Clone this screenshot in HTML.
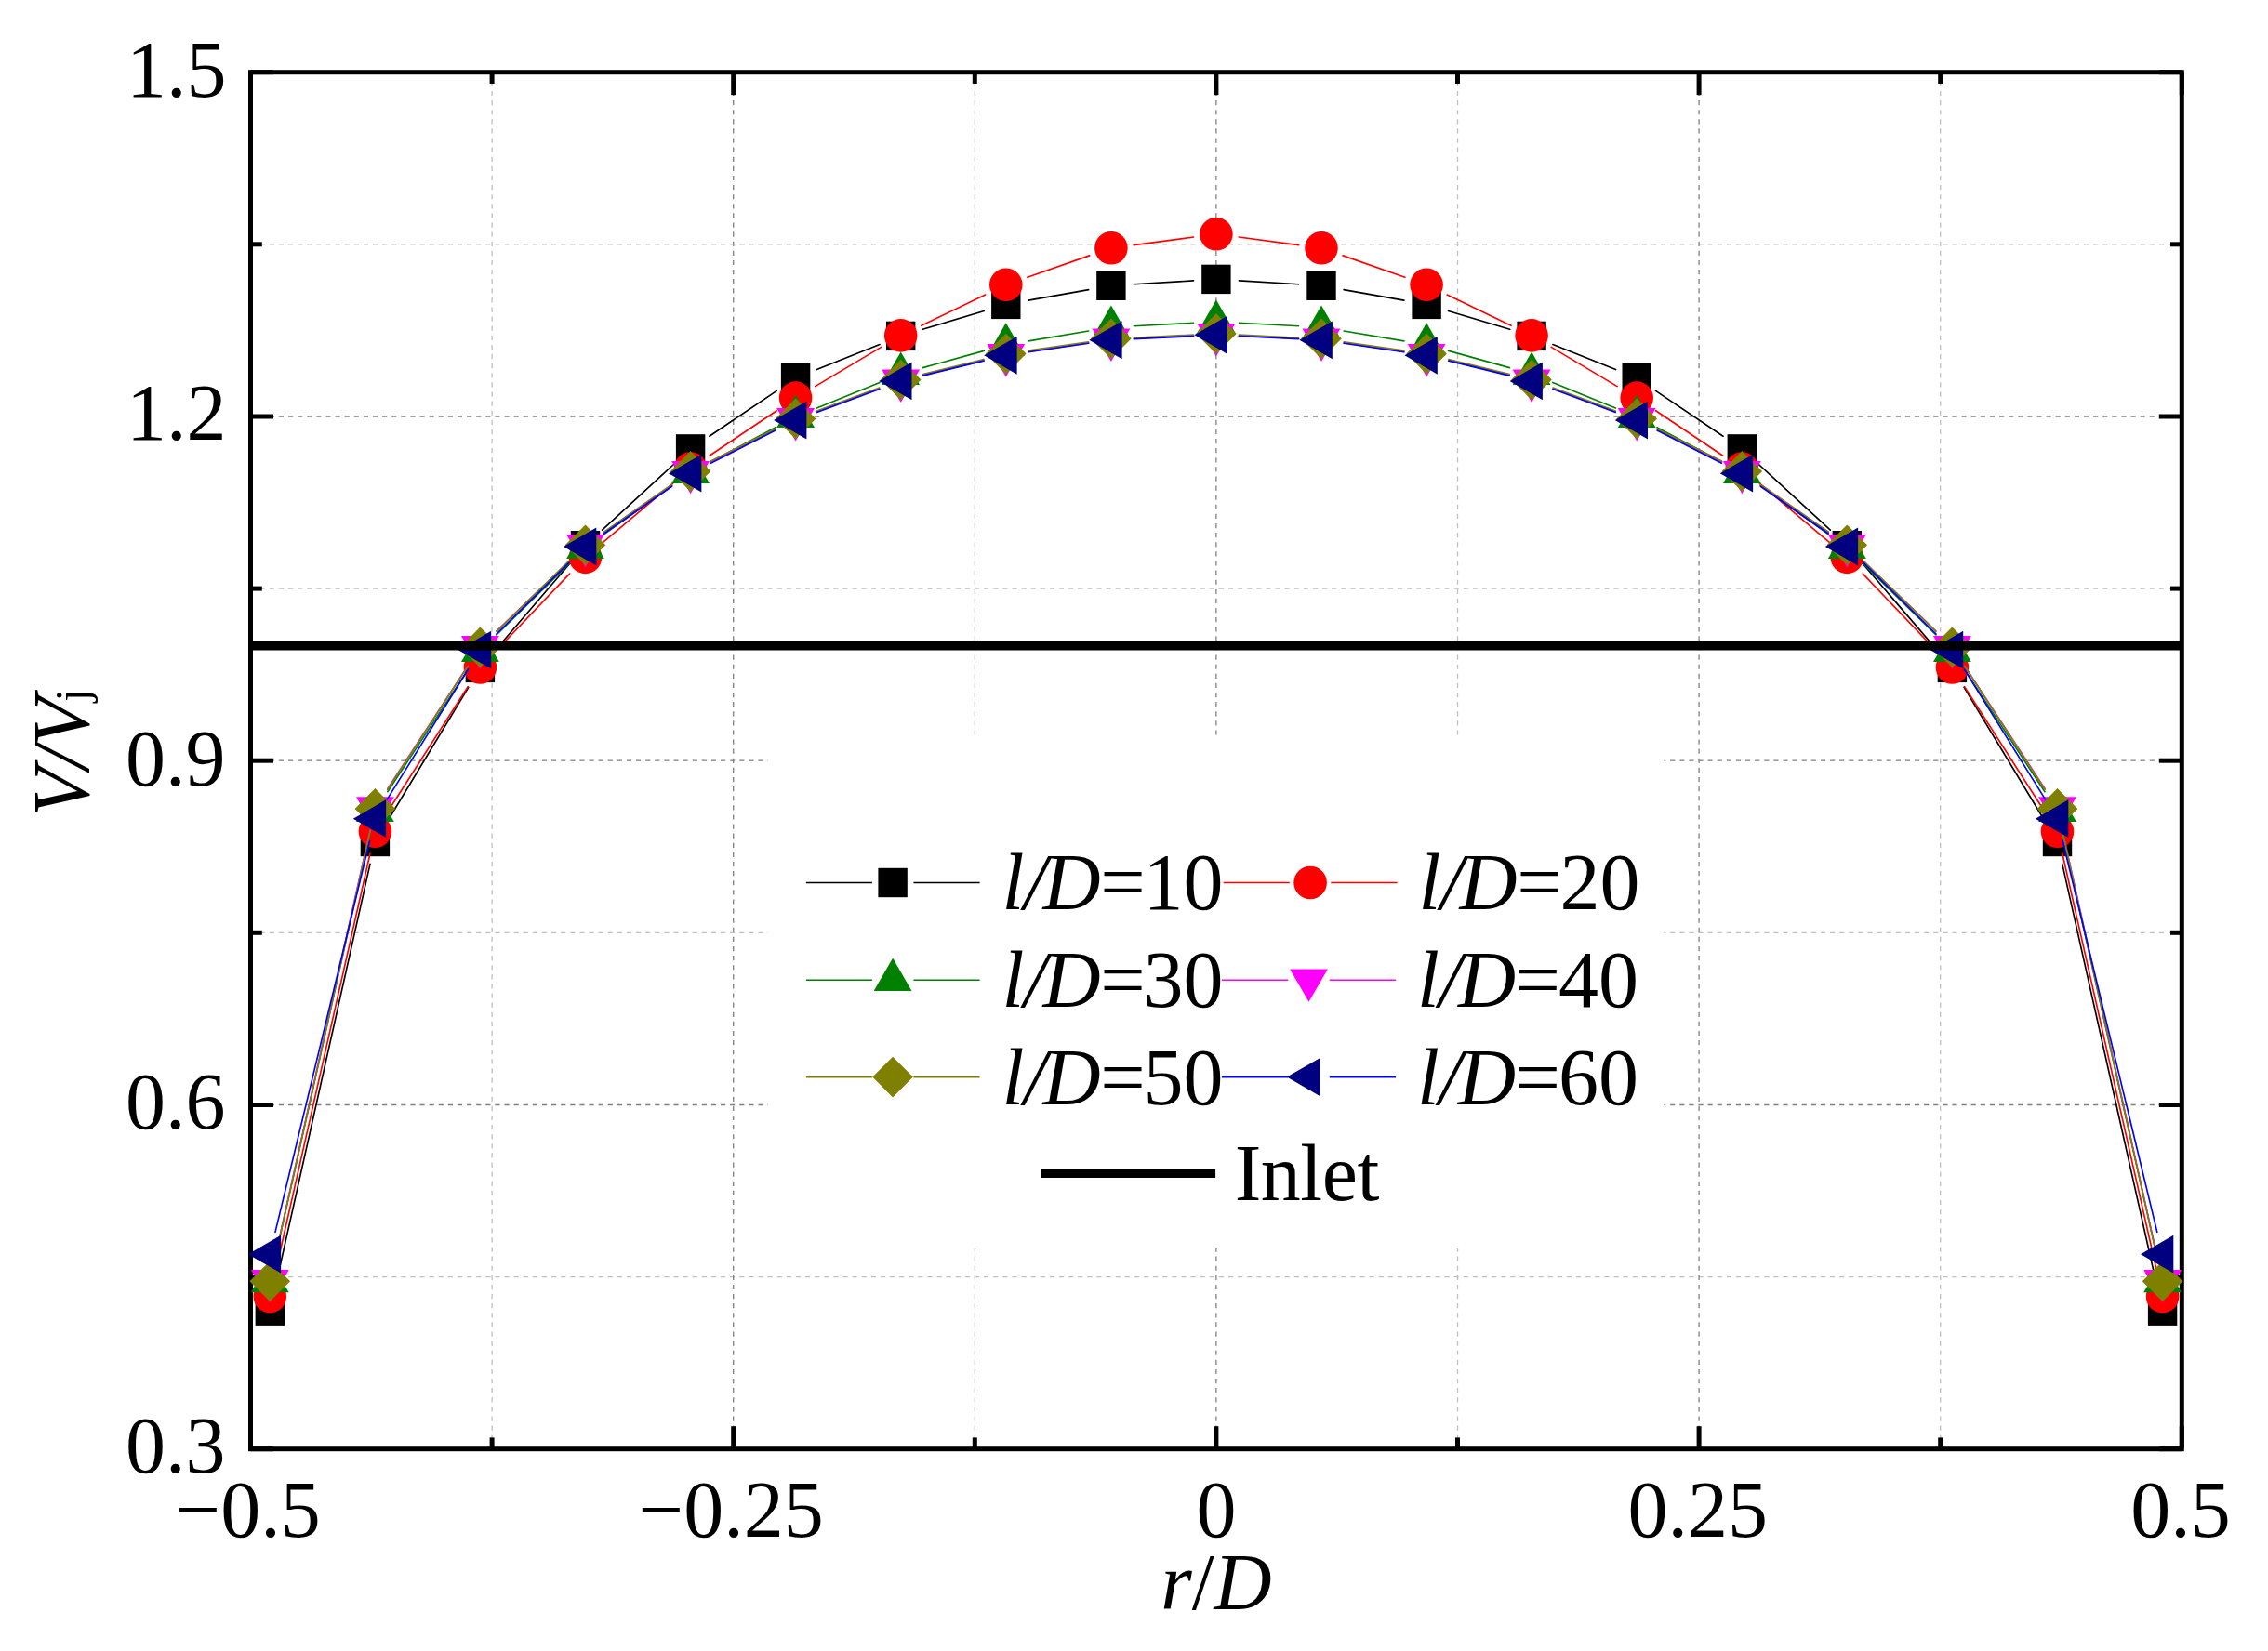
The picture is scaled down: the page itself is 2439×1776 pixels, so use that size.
<!DOCTYPE html>
<html lang="en"><head><meta charset="utf-8"><title>V/Vj versus r/D</title>
<style>html,body{margin:0;padding:0;background:#fff;overflow:hidden}svg{display:block}text{font-family:"Liberation Serif", "Times New Roman", serif;font-size:86px;fill:#000;font-kerning:none}.i{font-style:italic}</style></head><body>
<svg width="2439" height="1776" viewBox="0 0 2439 1776">
<rect x="0" y="0" width="2439" height="1776" fill="#fff"/>
<g fill="none" stroke-width="1.3" stroke-dasharray="5.2 4.91">
<line x1="529.1" y1="77.7" x2="529.1" y2="1558.7" stroke="#c0c0c0"/>
<line x1="1048.3" y1="77.7" x2="1048.3" y2="1558.7" stroke="#c0c0c0"/>
<line x1="1567.5" y1="77.7" x2="1567.5" y2="1558.7" stroke="#c0c0c0"/>
<line x1="2086.7" y1="77.7" x2="2086.7" y2="1558.7" stroke="#c0c0c0"/>
<line x1="269.5" y1="1373.6" x2="2346.3" y2="1373.6" stroke="#c0c0c0"/>
<line x1="269.5" y1="1003.3" x2="2346.3" y2="1003.3" stroke="#c0c0c0"/>
<line x1="269.5" y1="633.1" x2="2346.3" y2="633.1" stroke="#c0c0c0"/>
<line x1="269.5" y1="262.8" x2="2346.3" y2="262.8" stroke="#c0c0c0"/>
<line x1="788.7" y1="77.7" x2="788.7" y2="1558.7" stroke="#808080"/>
<line x1="1307.9" y1="77.7" x2="1307.9" y2="1558.7" stroke="#808080"/>
<line x1="1827.1" y1="77.7" x2="1827.1" y2="1558.7" stroke="#808080"/>
<line x1="269.5" y1="1188.5" x2="2346.3" y2="1188.5" stroke="#808080"/>
<line x1="269.5" y1="818.2" x2="2346.3" y2="818.2" stroke="#808080"/>
<line x1="269.5" y1="448" x2="2346.3" y2="448" stroke="#808080"/>
</g>
<g stroke="#000" stroke-width="5.0" fill="none">
<rect x="269.5" y="77.7" width="2076.8" height="1481"/>
<line x1="269.5" y1="77.7" x2="269.5" y2="102.2"/>
<line x1="269.5" y1="1558.7" x2="269.5" y2="1534.2"/>
<line x1="788.7" y1="77.7" x2="788.7" y2="102.2"/>
<line x1="788.7" y1="1558.7" x2="788.7" y2="1534.2"/>
<line x1="1307.9" y1="77.7" x2="1307.9" y2="102.2"/>
<line x1="1307.9" y1="1558.7" x2="1307.9" y2="1534.2"/>
<line x1="1827.1" y1="77.7" x2="1827.1" y2="102.2"/>
<line x1="1827.1" y1="1558.7" x2="1827.1" y2="1534.2"/>
<line x1="2346.3" y1="77.7" x2="2346.3" y2="102.2"/>
<line x1="2346.3" y1="1558.7" x2="2346.3" y2="1534.2"/>
<line x1="529.1" y1="77.7" x2="529.1" y2="90"/>
<line x1="529.1" y1="1558.7" x2="529.1" y2="1546.4"/>
<line x1="1048.3" y1="77.7" x2="1048.3" y2="90"/>
<line x1="1048.3" y1="1558.7" x2="1048.3" y2="1546.4"/>
<line x1="1567.5" y1="77.7" x2="1567.5" y2="90"/>
<line x1="1567.5" y1="1558.7" x2="1567.5" y2="1546.4"/>
<line x1="2086.7" y1="77.7" x2="2086.7" y2="90"/>
<line x1="2086.7" y1="1558.7" x2="2086.7" y2="1546.4"/>
<line x1="269.5" y1="1558.7" x2="294" y2="1558.7"/>
<line x1="2346.3" y1="1558.7" x2="2321.8" y2="1558.7"/>
<line x1="269.5" y1="1188.5" x2="294" y2="1188.5"/>
<line x1="2346.3" y1="1188.5" x2="2321.8" y2="1188.5"/>
<line x1="269.5" y1="818.2" x2="294" y2="818.2"/>
<line x1="2346.3" y1="818.2" x2="2321.8" y2="818.2"/>
<line x1="269.5" y1="448" x2="294" y2="448"/>
<line x1="2346.3" y1="448" x2="2321.8" y2="448"/>
<line x1="269.5" y1="77.7" x2="294" y2="77.7"/>
<line x1="2346.3" y1="77.7" x2="2321.8" y2="77.7"/>
<line x1="269.5" y1="1373.6" x2="281.8" y2="1373.6"/>
<line x1="2346.3" y1="1373.6" x2="2334" y2="1373.6"/>
<line x1="269.5" y1="1003.3" x2="281.8" y2="1003.3"/>
<line x1="2346.3" y1="1003.3" x2="2334" y2="1003.3"/>
<line x1="269.5" y1="633.1" x2="281.8" y2="633.1"/>
<line x1="2346.3" y1="633.1" x2="2334" y2="633.1"/>
<line x1="269.5" y1="262.8" x2="281.8" y2="262.8"/>
<line x1="2346.3" y1="262.8" x2="2334" y2="262.8"/>
</g>
<g>
<path d="M295.7 1386.3L398 929.4M416 884.5L503.8 739.4M532.4 699.8L613.6 605.3M647.6 570.1L724.5 499.5M762.9 469.2L835.3 420.4M878.4 397.6L946 370.5M992.2 354.3L1058.3 334.5M1105.9 323.1L1170.7 311.6M1219.3 305.8L1283.5 301.9M1332.4 301.9L1396.5 305.8M1445.1 311.6L1509.9 323.1M1557.5 334.5L1623.7 354.3M1669.9 370.5L1737.5 397.6M1780.5 420.4L1853 469.2M1891.3 499.5L1968.3 570.1M2002.3 605.3L2083.5 699.8M2112.1 739.4L2199.8 884.5M2217.8 929.4L2320.2 1386.3" stroke="#000000" stroke-width="1.65" stroke-linecap="round" fill="none"/>
<rect x="274.6" y="1394.5" width="31.4" height="31.4" fill="#000000"/>
<rect x="387.7" y="889.8" width="31.4" height="31.4" fill="#000000"/>
<rect x="500.7" y="702.7" width="31.4" height="31.4" fill="#000000"/>
<rect x="613.8" y="571" width="31.4" height="31.4" fill="#000000"/>
<rect x="726.9" y="467.2" width="31.4" height="31.4" fill="#000000"/>
<rect x="839.9" y="391" width="31.4" height="31.4" fill="#000000"/>
<rect x="953" y="345.7" width="31.4" height="31.4" fill="#000000"/>
<rect x="1066.1" y="311.7" width="31.4" height="31.4" fill="#000000"/>
<rect x="1179.2" y="291.6" width="31.4" height="31.4" fill="#000000"/>
<rect x="1292.2" y="284.7" width="31.4" height="31.4" fill="#000000"/>
<rect x="1405.3" y="291.6" width="31.4" height="31.4" fill="#000000"/>
<rect x="1518.4" y="311.7" width="31.4" height="31.4" fill="#000000"/>
<rect x="1631.4" y="345.7" width="31.4" height="31.4" fill="#000000"/>
<rect x="1744.5" y="391" width="31.4" height="31.4" fill="#000000"/>
<rect x="1857.6" y="467.2" width="31.4" height="31.4" fill="#000000"/>
<rect x="1970.6" y="571" width="31.4" height="31.4" fill="#000000"/>
<rect x="2083.7" y="702.7" width="31.4" height="31.4" fill="#000000"/>
<rect x="2196.8" y="889.8" width="31.4" height="31.4" fill="#000000"/>
<rect x="2309.9" y="1394.5" width="31.4" height="31.4" fill="#000000"/>
</g>
<g>
<path d="M295.7 1370.7L398 918.2M416.6 873.7L503.2 738.6M533.3 700.3L612.6 617.1M648.2 583.6L723.9 519.8M762.9 490.3L835.3 441.8M876.7 415.6L947.7 373.4M990.8 350.2L1059.7 317M1104.9 298.2L1171.7 274.9M1219.1 263.6L1283.6 255M1332.2 255L1396.7 263.6M1444.1 274.9L1510.9 298.2M1556.1 317L1625.1 350.2M1668.2 373.4L1739.1 415.6M1780.6 441.8L1852.9 490.3M1892 519.8L1967.6 583.6M2003.3 617.1L2082.5 700.3M2112.6 738.6L2199.3 873.7M2217.9 918.2L2320.2 1370.7" stroke="#ff0000" stroke-width="1.65" stroke-linecap="round" fill="none"/>
<circle cx="290.3" cy="1394.6" r="17.8" fill="#ff0000"/>
<circle cx="403.4" cy="894.3" r="17.8" fill="#ff0000"/>
<circle cx="516.4" cy="718" r="17.8" fill="#ff0000"/>
<circle cx="629.5" cy="599.4" r="17.8" fill="#ff0000"/>
<circle cx="742.6" cy="504" r="17.8" fill="#ff0000"/>
<circle cx="855.6" cy="428.1" r="17.8" fill="#ff0000"/>
<circle cx="968.7" cy="360.9" r="17.8" fill="#ff0000"/>
<circle cx="1081.8" cy="306.3" r="17.8" fill="#ff0000"/>
<circle cx="1194.9" cy="266.8" r="17.8" fill="#ff0000"/>
<circle cx="1307.9" cy="251.8" r="17.8" fill="#ff0000"/>
<circle cx="1421" cy="266.8" r="17.8" fill="#ff0000"/>
<circle cx="1534.1" cy="306.3" r="17.8" fill="#ff0000"/>
<circle cx="1647.1" cy="360.9" r="17.8" fill="#ff0000"/>
<circle cx="1760.2" cy="428.1" r="17.8" fill="#ff0000"/>
<circle cx="1873.3" cy="504" r="17.8" fill="#ff0000"/>
<circle cx="1986.3" cy="599.4" r="17.8" fill="#ff0000"/>
<circle cx="2099.4" cy="718" r="17.8" fill="#ff0000"/>
<circle cx="2212.5" cy="894.3" r="17.8" fill="#ff0000"/>
<circle cx="2325.6" cy="1394.6" r="17.8" fill="#ff0000"/>
</g>
<g>
<path d="M295.6 1354.6L398 896.1M416.8 851.7L503 720.7M533.9 683L612 606.4M649.4 574.9L722.7 522.6M764.2 496.8L834 459.8M878.3 439L946 411.4M992.3 395.6L1058.2 377.4M1106 366.9L1170.7 356M1219.3 350.7L1283.5 347.3M1332.4 347.3L1396.5 350.7M1445.2 356L1509.9 366.9M1557.7 377.4L1623.5 395.6M1669.8 411.4L1737.5 439M1781.9 459.8L1851.6 496.8M1893.2 522.6L1966.4 574.9M2003.8 606.4L2081.9 683M2112.9 720.7L2199 851.7M2217.8 896.1L2320.2 1354.6" stroke="#008000" stroke-width="1.65" stroke-linecap="round" fill="none"/>
<polygon points="290.3,1354.9 269.9,1390.3 310.7,1390.3" fill="#008000"/>
<polygon points="403.4,848.6 383,884 423.8,884" fill="#008000"/>
<polygon points="516.4,676.6 496,712 536.8,712" fill="#008000"/>
<polygon points="629.5,565.6 609.1,601 649.9,601" fill="#008000"/>
<polygon points="742.6,484.7 722.2,520.1 763,520.1" fill="#008000"/>
<polygon points="855.6,424.7 835.2,460.1 876,460.1" fill="#008000"/>
<polygon points="968.7,378.5 948.3,413.9 989.1,413.9" fill="#008000"/>
<polygon points="1081.8,347.3 1061.4,382.7 1102.2,382.7" fill="#008000"/>
<polygon points="1194.9,328.4 1174.5,363.8 1215.3,363.8" fill="#008000"/>
<polygon points="1307.9,322.4 1287.5,357.8 1328.3,357.8" fill="#008000"/>
<polygon points="1421,328.4 1400.6,363.8 1441.4,363.8" fill="#008000"/>
<polygon points="1534.1,347.3 1513.7,382.7 1554.5,382.7" fill="#008000"/>
<polygon points="1647.1,378.5 1626.7,413.9 1667.5,413.9" fill="#008000"/>
<polygon points="1760.2,424.7 1739.8,460.1 1780.6,460.1" fill="#008000"/>
<polygon points="1873.3,484.7 1852.9,520.1 1893.7,520.1" fill="#008000"/>
<polygon points="1986.3,565.6 1965.9,601 2006.8,601" fill="#008000"/>
<polygon points="2099.4,676.6 2079,712 2119.8,712" fill="#008000"/>
<polygon points="2212.5,848.6 2192.1,884 2232.9,884" fill="#008000"/>
<polygon points="2325.6,1354.9 2305.2,1390.3 2346,1390.3" fill="#008000"/>
</g>
<g>
<path d="M295.6 1353.8L398.1 892.9M416.8 848.5L503 716.4M534.1 678.9L611.9 603.8M649.6 572.8L722.5 521.7M764.5 496.7L833.8 461.9M878.6 442.4L945.7 417.8M992.5 403.5L1058 387.6M1106 378.3L1170.6 368.8M1219.3 364.2L1283.5 361.1M1332.4 361.1L1396.5 364.2M1445.2 368.8L1509.8 378.3M1557.9 387.6L1623.3 403.5M1670.1 417.8L1737.2 442.4M1782.1 461.9L1851.4 496.7M1893.4 521.7L1966.3 572.8M2004 603.8L2081.8 678.9M2112.8 716.4L2199.1 848.5M2217.8 892.9L2320.2 1353.8" stroke="#ff00ff" stroke-width="1.65" stroke-linecap="round" fill="none"/>
<polygon points="290.3,1401.3 269.9,1365.9 310.7,1365.9" fill="#ff00ff"/>
<polygon points="403.4,892.6 383,857.2 423.8,857.2" fill="#ff00ff"/>
<polygon points="516.4,719.5 496,684.1 536.8,684.1" fill="#ff00ff"/>
<polygon points="629.5,610.4 609.1,575 649.9,575" fill="#ff00ff"/>
<polygon points="742.6,531.3 722.2,495.9 763,495.9" fill="#ff00ff"/>
<polygon points="855.6,474.5 835.2,439.1 876,439.1" fill="#ff00ff"/>
<polygon points="968.7,432.9 948.3,397.5 989.1,397.5" fill="#ff00ff"/>
<polygon points="1081.8,405.4 1061.4,370 1102.2,370" fill="#ff00ff"/>
<polygon points="1194.9,388.9 1174.5,353.5 1215.3,353.5" fill="#ff00ff"/>
<polygon points="1307.9,383.6 1287.5,348.2 1328.3,348.2" fill="#ff00ff"/>
<polygon points="1421,388.9 1400.6,353.5 1441.4,353.5" fill="#ff00ff"/>
<polygon points="1534.1,405.4 1513.7,370 1554.5,370" fill="#ff00ff"/>
<polygon points="1647.1,432.9 1626.7,397.5 1667.5,397.5" fill="#ff00ff"/>
<polygon points="1760.2,474.5 1739.8,439.1 1780.6,439.1" fill="#ff00ff"/>
<polygon points="1873.3,531.3 1852.9,495.9 1893.7,495.9" fill="#ff00ff"/>
<polygon points="1986.3,610.4 1965.9,575 2006.8,575" fill="#ff00ff"/>
<polygon points="2099.4,719.5 2079,684.1 2119.8,684.1" fill="#ff00ff"/>
<polygon points="2212.5,892.6 2192.1,857.2 2232.9,857.2" fill="#ff00ff"/>
<polygon points="2325.6,1401.3 2305.2,1365.9 2346,1365.9" fill="#ff00ff"/>
</g>
<g>
<path d="M295.6 1354.4L398.1 893.8M416.7 849.4L503.1 716.8M534 679.2L612 603.3M649.6 572.1L722.5 521.1M764.5 496L833.7 461.4M878.6 441.9L945.7 417M992.5 402.6L1058 386.5M1106 377.1L1170.6 367.8M1219.3 363.2L1283.5 360.1M1332.4 360.1L1396.5 363.2M1445.2 367.8L1509.8 377.1M1557.9 386.5L1623.4 402.6M1670.1 417L1737.2 441.9M1782.1 461.4L1851.4 496M1893.3 521.1L1966.3 572.1M2003.9 603.3L2081.9 679.2M2112.8 716.8L2199.1 849.4M2217.8 893.8L2320.2 1354.4" stroke="#808000" stroke-width="1.65" stroke-linecap="round" fill="none"/>
<polygon points="290.3,1356.5 312.1,1378.3 290.3,1400.1 268.5,1378.3" fill="#808000"/>
<polygon points="403.4,848.1 425.2,869.9 403.4,891.7 381.6,869.9" fill="#808000"/>
<polygon points="516.4,674.5 538.2,696.3 516.4,718.1 494.6,696.3" fill="#808000"/>
<polygon points="629.5,564.4 651.3,586.2 629.5,608 607.7,586.2" fill="#808000"/>
<polygon points="742.6,485.2 764.4,507 742.6,528.8 720.8,507" fill="#808000"/>
<polygon points="855.6,428.6 877.4,450.4 855.6,472.2 833.8,450.4" fill="#808000"/>
<polygon points="968.7,386.7 990.5,408.5 968.7,430.3 946.9,408.5" fill="#808000"/>
<polygon points="1081.8,358.8 1103.6,380.6 1081.8,402.4 1060,380.6" fill="#808000"/>
<polygon points="1194.9,342.5 1216.7,364.3 1194.9,386.1 1173.1,364.3" fill="#808000"/>
<polygon points="1307.9,337.2 1329.7,359 1307.9,380.8 1286.1,359" fill="#808000"/>
<polygon points="1421,342.5 1442.8,364.3 1421,386.1 1399.2,364.3" fill="#808000"/>
<polygon points="1534.1,358.8 1555.9,380.6 1534.1,402.4 1512.3,380.6" fill="#808000"/>
<polygon points="1647.1,386.7 1668.9,408.5 1647.1,430.3 1625.3,408.5" fill="#808000"/>
<polygon points="1760.2,428.6 1782,450.4 1760.2,472.2 1738.4,450.4" fill="#808000"/>
<polygon points="1873.3,485.2 1895.1,507 1873.3,528.8 1851.5,507" fill="#808000"/>
<polygon points="1986.3,564.4 2008.1,586.2 1986.3,608 1964.5,586.2" fill="#808000"/>
<polygon points="2099.4,674.5 2121.2,696.3 2099.4,718.1 2077.6,696.3" fill="#808000"/>
<polygon points="2212.5,848.1 2234.3,869.9 2212.5,891.7 2190.7,869.9" fill="#808000"/>
<polygon points="2325.6,1356.5 2347.4,1378.3 2325.6,1400.1 2303.8,1378.3" fill="#808000"/>
</g>
<g>
<path d="M296 1325.4L397.6 904.5M416.3 859.9L503.5 720M533.9 682L612 605.2M649.6 574L722.5 523.2M764.4 498.2L833.8 463.1M878.6 443.5L945.8 418.5M992.5 404.1L1058 388.1M1106 378.8L1170.6 369.3M1219.3 364.6L1283.5 361.5M1332.4 361.5L1396.5 364.6M1445.2 369.3L1509.8 378.8M1557.9 388.1L1623.3 404.1M1670.1 418.5L1737.3 443.5M1782.1 463.1L1851.4 498.2M1893.4 523.2L1966.2 574M2003.8 605.2L2082 682M2112.4 720L2199.5 859.9M2218.2 904.5L2319.8 1325.4" stroke="#0000ff" stroke-width="1.65" stroke-linecap="round" fill="none"/>
<polygon points="266.7,1349.2 302.1,1328.8 302.1,1369.6" fill="#000080"/>
<polygon points="379.8,880.7 415.1,860.3 415.1,901.1" fill="#000080"/>
<polygon points="492.9,699.2 528.2,678.8 528.2,719.6" fill="#000080"/>
<polygon points="606,588 641.3,567.6 641.3,608.4" fill="#000080"/>
<polygon points="719,509.2 754.4,488.8 754.4,529.6" fill="#000080"/>
<polygon points="832.1,452.1 867.4,431.7 867.4,472.5" fill="#000080"/>
<polygon points="945.2,409.9 980.5,389.5 980.5,430.3" fill="#000080"/>
<polygon points="1058.2,382.3 1093.6,361.9 1093.6,402.7" fill="#000080"/>
<polygon points="1171.3,365.8 1206.6,345.4 1206.6,386.2" fill="#000080"/>
<polygon points="1284.4,360.3 1319.7,339.9 1319.7,380.7" fill="#000080"/>
<polygon points="1397.4,365.8 1432.8,345.4 1432.8,386.2" fill="#000080"/>
<polygon points="1510.5,382.3 1545.8,361.9 1545.8,402.7" fill="#000080"/>
<polygon points="1623.6,409.9 1658.9,389.5 1658.9,430.3" fill="#000080"/>
<polygon points="1736.7,452.1 1772,431.7 1772,472.5" fill="#000080"/>
<polygon points="1849.7,509.2 1885.1,488.8 1885.1,529.6" fill="#000080"/>
<polygon points="1962.8,588 1998.1,567.6 1998.1,608.4" fill="#000080"/>
<polygon points="2075.9,699.2 2111.2,678.8 2111.2,719.6" fill="#000080"/>
<polygon points="2188.9,880.7 2224.3,860.3 2224.3,901.1" fill="#000080"/>
<polygon points="2302,1349.2 2337.3,1328.8 2337.3,1369.6" fill="#000080"/>
</g>
<line x1="269.5" y1="694.8" x2="2346.3" y2="694.8" stroke="#000" stroke-width="9.4"/>
<rect x="826" y="791.4" width="963.5" height="551.6" fill="#fff"/>
<path d="M866.9 949.5H937.9M982.4 949.5H1053.6" stroke="#000000" stroke-width="1.65" fill="none"/>
<rect x="944.4" y="933.8" width="31.4" height="31.4" fill="#000000"/>
<text y="978.1"><tspan class="i" x="1077.5 1101.2 1121.6">l/D</tspan><tspan x="1183.2 1229.5 1272.5">=10</tspan></text>
<path d="M1315.6 949.5H1386.8M1431.3 949.5H1502.6" stroke="#ff0000" stroke-width="1.65" fill="none"/>
<circle cx="1409.1" cy="949.5" r="17.8" fill="#ff0000"/>
<text y="978.1"><tspan class="i" x="1525.5 1549.2 1569.6">l/D</tspan><tspan x="1631.2 1677.5 1720.5">=20</tspan></text>
<path d="M866.9 1054.2H937.9M982.4 1054.2H1053.6" stroke="#008000" stroke-width="1.65" fill="none"/>
<polygon points="960.1,1030.6 939.7,1066 980.5,1066" fill="#008000"/>
<text y="1082.9"><tspan class="i" x="1077.5 1101.2 1121.6">l/D</tspan><tspan x="1183.2 1229.5 1272.5">=30</tspan></text>
<path d="M1314 1054.2H1385.2M1429.8 1054.2H1501" stroke="#ff00ff" stroke-width="1.65" fill="none"/>
<polygon points="1407.5,1077.8 1387.1,1042.4 1427.9,1042.4" fill="#ff00ff"/>
<text y="1082.9"><tspan class="i" x="1523.9 1547.6 1568">l/D</tspan><tspan x="1629.6 1675.9 1718.9">=40</tspan></text>
<path d="M866.9 1158.6H937.9M982.4 1158.6H1053.6" stroke="#808000" stroke-width="1.65" fill="none"/>
<polygon points="960.1,1136.8 981.9,1158.6 960.1,1180.4 938.3,1158.6" fill="#808000"/>
<text y="1187.6"><tspan class="i" x="1077.5 1101.2 1121.6">l/D</tspan><tspan x="1183.2 1229.5 1272.5">=50</tspan></text>
<path d="M1314 1158.6H1385.2M1429.8 1158.6H1501" stroke="#0000ff" stroke-width="1.65" fill="none"/>
<polygon points="1383.9,1158.6 1419.3,1138.2 1419.3,1179" fill="#000080"/>
<text y="1187.6"><tspan class="i" x="1523.9 1547.6 1568">l/D</tspan><tspan x="1629.6 1675.9 1718.9">=60</tspan></text>
<line x1="1120" y1="1262.4" x2="1307.1" y2="1262.4" stroke="#000" stroke-width="9.4"/>
<text x="1327.7" y="1291" letter-spacing="-0.5">Inlet</text>
<text x="243.5" y="104.1" text-anchor="end">1.5</text>
<text x="243.5" y="473.2" text-anchor="end">1.2</text>
<text x="242.5" y="844.6" text-anchor="end">0.9</text>
<text x="242.5" y="1214" text-anchor="end">0.6</text>
<text x="242.5" y="1584.3" text-anchor="end">0.3</text>
<text x="266.8" y="1652.6" text-anchor="middle">−0.5</text>
<text x="786.2" y="1652.6" text-anchor="middle">−0.25</text>
<text x="1307.9" y="1652.6" text-anchor="middle">0</text>
<text x="1825.8" y="1652.6" text-anchor="middle">0.25</text>
<text x="2345.1" y="1652.6" text-anchor="middle">0.5</text>
<text x="1248.2" y="1730.7"><tspan class="i">r</tspan>/<tspan class="i">D</tspan></text>
<text transform="translate(95.2 878.3) rotate(-90)"><tspan class="i" x="0 50.5 75.5">V/V</tspan><tspan x="123.3" dy="-1" font-size="51">j</tspan></text>
</svg></body></html>
